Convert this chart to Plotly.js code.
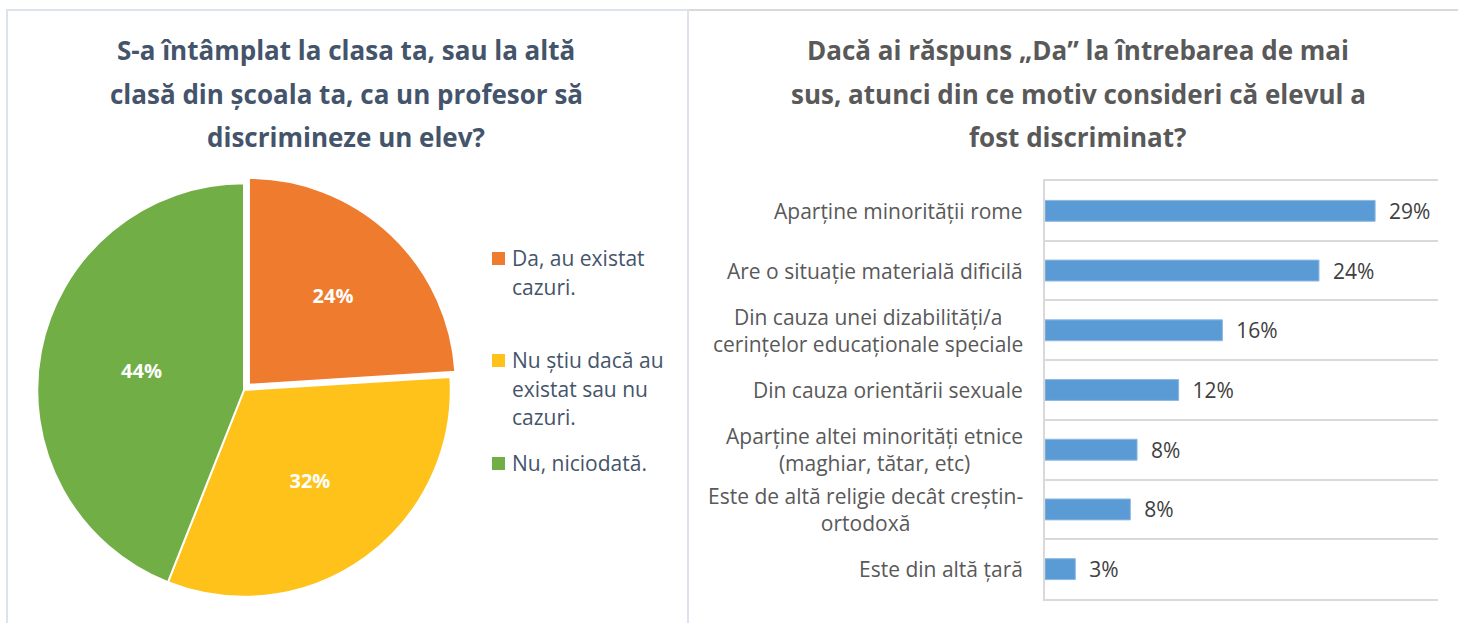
<!DOCTYPE html>
<html>
<head>
<meta charset="utf-8">
<script src="https://cdn.plot.ly/plotly-3.0.1.min.js"></script>
<style>
html,body{margin:0;padding:0;background:#ffffff;}
#chart{width:1458px;height:623px;}
</style>
</head>
<body>
<div id="chart"></div>
<script>
// ---- data ----
const leftTitleLines = ["S-a întâmplat la clasa ta, sau la altă", "clasă din școala ta, ca un profesor să", "discrimineze un elev?"];
const rightTitleLines = ["Dacă ai răspuns „Da” la întrebarea de mai", "sus, atunci din ce motiv consideri că elevul a", "fost discriminat?"];

const pieLabels = ["Da, au existat cazuri.", "Nu știu dacă au existat sau nu cazuri.", "Nu, niciodată."];
const pieLegendLines = [["Da, au existat", "cazuri."], ["Nu știu dacă au", "existat sau nu", "cazuri."], ["Nu, niciodată."]];
const pieValues = [24, 32, 44];
const pieColors = ["#EF7B2F", "#FFC21A", "#71AE46"];

const barCategories = [
  "Aparține minorității rome",
  "Are o situație materială dificilă",
  "Din cauza unei dizabilități/a cerințelor educaționale speciale",
  "Din cauza orientării sexuale",
  "Aparține altei minorități etnice (maghiar, tătar, etc)",
  "Este de altă religie decât creștin-ortodoxă",
  "Este din altă țară"
];
const barTickLabels = [
  "Aparține minorității rome",
  "Are o situație materială dificilă",
  "Din cauza unei dizabilități/a<br>cerințelor educaționale speciale",
  "Din cauza orientării sexuale",
  "Aparține altei minorități etnice<br>(maghiar, tătar, etc)",
  "Este de altă religie decât creștin-<br>ortodoxă",
  "Este din altă țară"
];
const barValues = [29.4, 24.4, 15.8, 11.9, 8.2, 7.6, 2.7];

// ---- layout helpers ----
const W = 1458, H = 623;
const px = x => x / W;
const py = y => 1 - y / H;
const FONT = "Open Sans, sans-serif";

const pieTrace = {
  type: "pie",
  labels: pieLabels,
  values: pieValues,
  sort: false,
  direction: "clockwise",
  rotation: 0,
  pull: [0.035, 0, 0],
  marker: { colors: pieColors, line: { color: "#ffffff", width: 2 } },
  textinfo: "percent",
  textposition: "inside",
  insidetextorientation: "horizontal",
  textfont: { family: FONT, size: 20, color: "#ffffff", weight: 700 },
  domain: { x: [px(30), px(458)], y: [py(604), py(176)] },
  showlegend: false,
  hoverinfo: "label+percent"
};

const barTrace = {
  type: "bar",
  orientation: "h",
  x: barValues,
  y: barCategories,
  xaxis: "x",
  yaxis: "y",
  marker: { color: "#5B9BD5", line: { color: "#8DB8E2", width: 1 } },
  texttemplate: "\u00a0\u00a0%{x:.0f}%",
  textposition: "outside",
  constraintext: "none",
  cliponaxis: false,
  textfont: { family: FONT, size: 21, color: "#404040" },
  showlegend: false,
  hoverinfo: "y+x"
};

const annotations = [];
const titleYs = [50, 94, 137];
leftTitleLines.forEach((t, i) => annotations.push({
  text: t, xref: "paper", yref: "paper", x: px(346), y: py(titleYs[i]),
  xanchor: "center", yanchor: "middle", showarrow: false,
  font: { family: FONT, size: 26, color: "#44546A", weight: 700 }
}));
rightTitleLines.forEach((t, i) => annotations.push({
  text: t, xref: "paper", yref: "paper", x: px(1078), y: py(titleYs[i]),
  xanchor: "center", yanchor: "middle", showarrow: false,
  font: { family: FONT, size: 26, color: "#595959", weight: 700 }
}));
// y-axis category labels (centered lines, right-anchored)
barTickLabels.forEach((t, i) => annotations.push({
  text: t, xref: "paper", yref: "y", x: px(1025), y: barCategories[i],
  xanchor: "right", yanchor: "middle", align: "center", showarrow: false,
  font: { family: FONT, size: 21, color: "#595959" }
}));
// legend for the pie (manual, to keep Excel-like spacing)
const legendFirstLine = [258, 360, 463];
const legendLineGap = 28.5;
const shapes = [];
pieLegendLines.forEach((lines, i) => {
  lines.forEach((t, j) => annotations.push({
    text: t, xref: "paper", yref: "paper", x: px(510), y: py(legendFirstLine[i] + j * legendLineGap),
    xanchor: "left", yanchor: "middle", align: "left", showarrow: false,
    font: { family: FONT, size: 21, color: "#44546A" }
  }));
  shapes.push({
    type: "rect", xref: "paper", yref: "paper",
    x0: px(492), x1: px(505), y0: py(legendFirstLine[i] + 7), y1: py(legendFirstLine[i] - 6),
    fillcolor: pieColors[i], line: { width: 0 }
  });
});
// panel frames
shapes.push({ type: "rect", xref: "paper", yref: "paper", x0: px(7), x1: px(688), y0: py(10), y1: py(640),
  line: { color: "#DCE3EE", width: 2 }, fillcolor: "rgba(0,0,0,0)" });
shapes.push({ type: "line", xref: "paper", yref: "paper", x0: px(689), x1: px(1460), y0: py(10), y1: py(10),
  line: { color: "#D9D9D9", width: 2 } });

const layout = {
  width: W, height: H,
  margin: { l: 0, r: 0, t: 0, b: 0 },
  paper_bgcolor: "#ffffff",
  plot_bgcolor: "rgba(0,0,0,0)",
  font: { family: FONT, color: "#595959" },
  showlegend: false,
  bargap: 0.65,
  xaxis: {
    domain: [px(1045), px(1438)],
    range: [0, 35],
    showgrid: false, zeroline: false, showticklabels: false, ticks: "",
    showline: true, mirror: true, linecolor: "#D9D9D9", linewidth: 2,
    fixedrange: true
  },
  yaxis: {
    domain: [py(599), py(181)],
    type: "category",
    categoryorder: "array",
    categoryarray: barCategories,
    autorange: "reversed",
    showgrid: true, gridcolor: "#D9D9D9", gridwidth: 2,
    tickson: "boundaries", ticks: "",
    showticklabels: false, zeroline: false,
    showline: true, linecolor: "#D9D9D9", linewidth: 2,
    fixedrange: true
  },
  annotations: annotations,
  shapes: shapes
};

Plotly.newPlot("chart", [pieTrace, barTrace], layout, { displayModeBar: false, staticPlot: true });
</script>
</body>
</html>
